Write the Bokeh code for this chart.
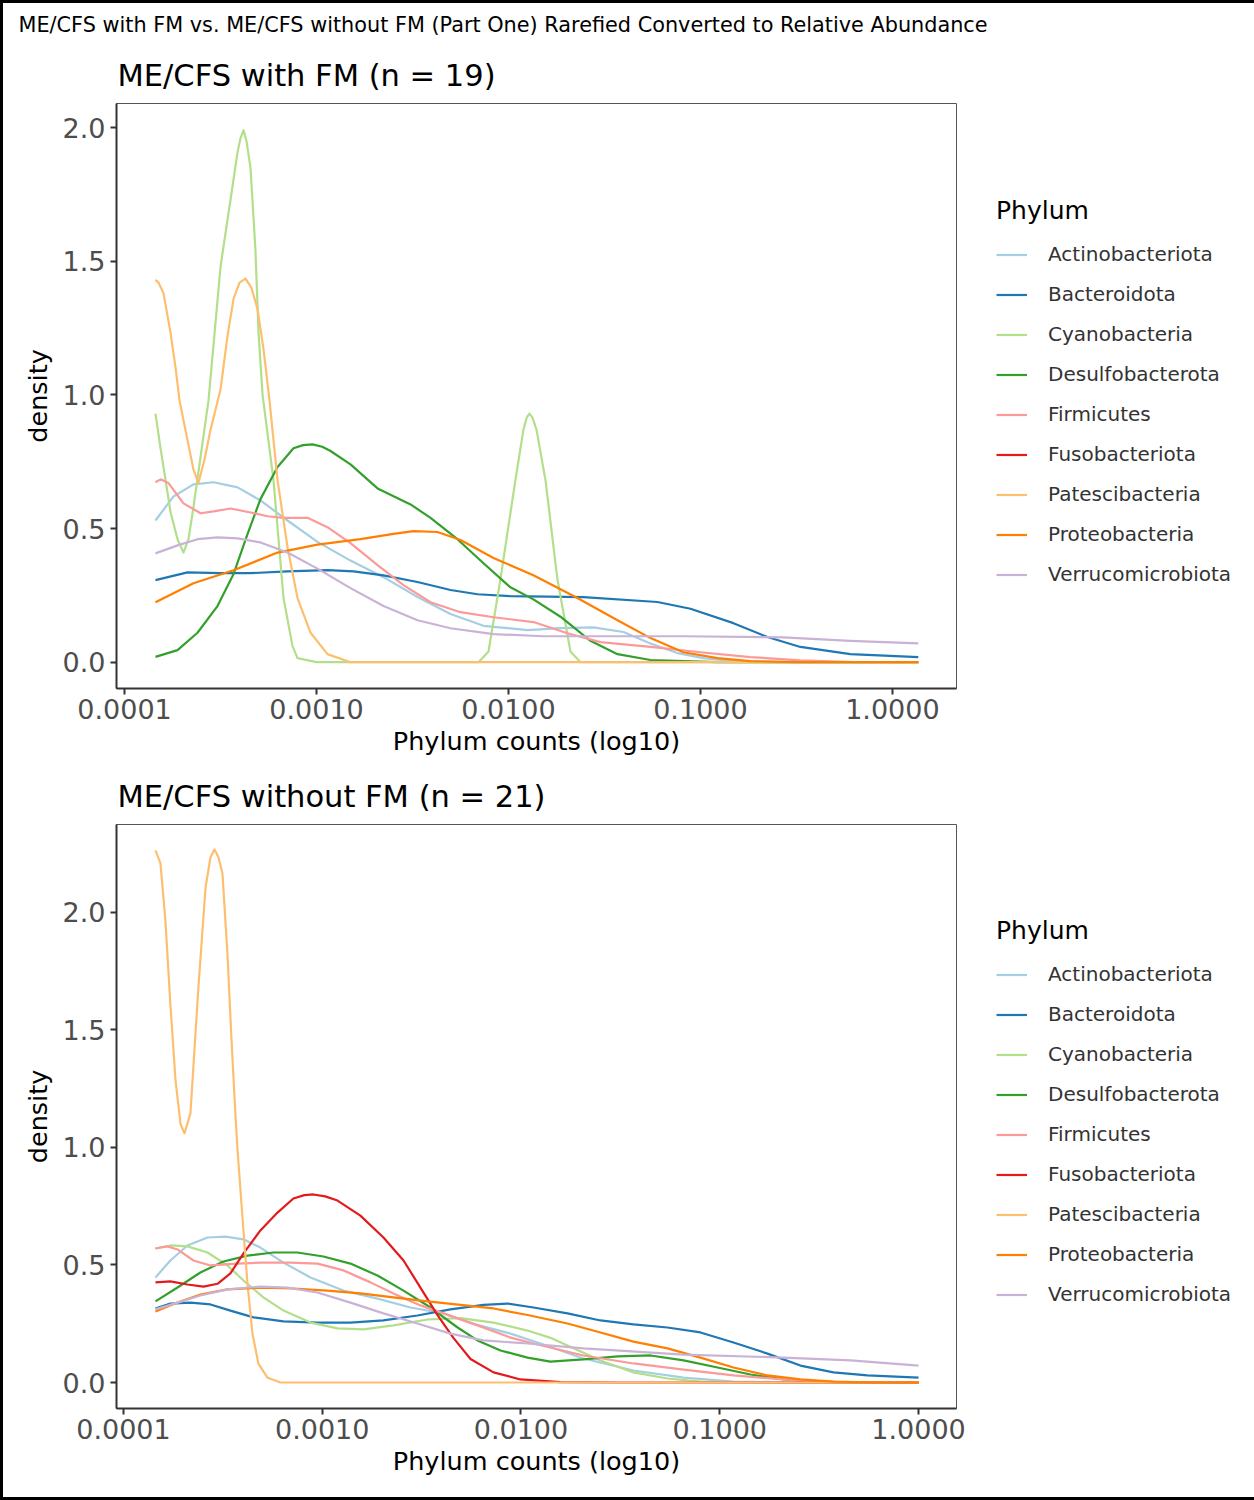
import numpy as np
from bokeh.plotting import figure
from bokeh.models import (Range1d, FixedTicker, NumeralTickFormatter, Legend,
                          LegendItem, Title, Column, ColumnDataSource)
from bokeh.embed import file_html
from bokeh.resources import INLINE

# ---------------- data ----------------
MAIN_TITLE = "ME/CFS with FM vs. ME/CFS without FM (Part One) Rarefied Converted to Relative Abundance"
TOP_TITLE = "ME/CFS with FM (n = 19)"
BOTTOM_TITLE = "ME/CFS without FM (n = 21)"
X_LABEL = "Phylum counts (log10)"
Y_LABEL = "density"
LEGEND_TITLE = "Phylum"

PHYLA = ["Actinobacteriota", "Bacteroidota", "Cyanobacteria", "Desulfobacterota",
         "Firmicutes", "Fusobacteriota", "Patescibacteria", "Proteobacteria",
         "Verrucomicrobiota"]
COLORS = ["#A6CEE3", "#1F78B4", "#B2DF8A", "#33A02C", "#FB9A99", "#E31A1C",
          "#FDBF6F", "#FF7F00", "#CAB2D6"]
X_TICKS = [0.0001, 0.001, 0.01, 0.1, 1.0]
Y_TICKS = [0.0, 0.5, 1.0, 1.5, 2.0]

# x values are log10(relative abundance), y values are density
# ---- ME/CFS with FM ----
top_actino_x = [-3.839, -3.745, -3.641, -3.536, -3.411, -3.292, -3.151, -2.995, -2.823, -2.651, -2.474, -2.302, -2.130, -1.901, -1.729, -1.557, -1.401, -1.260, -1.120, -0.984, -0.828, -0.6, 0.135]
top_actino_y = [0.53, 0.62, 0.665, 0.673, 0.654, 0.605, 0.53, 0.45, 0.38, 0.318, 0.244, 0.18, 0.136, 0.12, 0.127, 0.13, 0.113, 0.07, 0.034, 0.015, 0.004, 0.0, 0.0]
top_bactero_x = [-3.839, -3.672, -3.5, -3.344, -3.151, -2.943, -2.807, -2.651, -2.474, -2.302, -2.161, -1.990, -1.609, -1.224, -1.052, -0.828, -0.651, -0.479, -0.219, 0.135]
top_bactero_y = [0.307, 0.336, 0.333, 0.333, 0.34, 0.344, 0.34, 0.325, 0.30, 0.27, 0.254, 0.247, 0.243, 0.225, 0.20, 0.146, 0.094, 0.057, 0.03, 0.019]
top_cyano_x = [-3.839, -3.8125, -3.760, -3.724, -3.693, -3.667, -3.641, -3.5625, -3.5, -3.448, -3.411, -3.396, -3.380, -3.365, -3.344, -3.318, -3.302, -3.281, -3.224, -3.172, -3.125, -3.099, -3.0, -2.156, -2.104, -2.042, -1.964, -1.922, -1.905, -1.891, -1.875, -1.854, -1.807, -1.745, -1.677, -1.625, 0.135]
top_cyano_y = [0.93, 0.80, 0.56, 0.46, 0.41, 0.46, 0.58, 0.98, 1.48, 1.73, 1.91, 1.96, 1.99, 1.95, 1.85, 1.54, 1.23, 1.0, 0.68, 0.24, 0.06, 0.015, 0.0, 0.0, 0.04, 0.31, 0.68, 0.87, 0.915, 0.93, 0.915, 0.87, 0.68, 0.31, 0.04, 0.0, 0.0]
top_desulfo_x = [-3.839, -3.724, -3.620, -3.516, -3.432, -3.359, -3.292, -3.203, -3.120, -3.070, -3.021, -2.970, -2.927, -2.823, -2.682, -2.510, -2.406, -2.266, -2.130, -1.990, -1.870, -1.729, -1.573, -1.432, -1.260, -0.911, 0.135]
top_desulfo_y = [0.02, 0.045, 0.11, 0.21, 0.33, 0.48, 0.61, 0.73, 0.80, 0.812, 0.815, 0.806, 0.79, 0.74, 0.65, 0.59, 0.54, 0.46, 0.37, 0.28, 0.235, 0.17, 0.08, 0.03, 0.008, 0.0, 0.0]
top_firmi_x = [-3.839, -3.8125, -3.771, -3.693, -3.604, -3.536, -3.448, -3.344, -3.255, -3.172, -3.047, -2.943, -2.823, -2.682, -2.547, -2.406, -2.25, -2.078, -1.870, -1.693, -1.521, -1.260, -1.0, -0.740, -0.479, -0.2, 0.135]
top_firmi_y = [0.673, 0.684, 0.67, 0.594, 0.557, 0.564, 0.575, 0.56, 0.546, 0.54, 0.54, 0.505, 0.445, 0.363, 0.288, 0.224, 0.187, 0.168, 0.15, 0.108, 0.075, 0.057, 0.037, 0.019, 0.007, 0.0, 0.0]
top_fuso_x = [np.nan]   # no curve drawn for this group (legend entry only)
top_fuso_y = [np.nan]
top_patesci_x = [-3.839, -3.823, -3.797, -3.760, -3.734, -3.714, -3.672, -3.641, -3.615, -3.583, -3.552, -3.5, -3.464, -3.432, -3.401, -3.370, -3.339, -3.307, -3.276, -3.245, -3.203, -3.151, -3.099, -3.031, -2.943, -2.823, 0.135]
top_patesci_y = [1.43, 1.42, 1.38, 1.23, 1.10, 0.98, 0.83, 0.72, 0.67, 0.76, 0.87, 1.02, 1.22, 1.36, 1.42, 1.435, 1.40, 1.32, 1.17, 0.98, 0.68, 0.43, 0.24, 0.11, 0.03, 0.0, 0.0]
top_proteo_x = [-3.839, -3.641, -3.432, -3.203, -2.995, -2.771, -2.599, -2.495, -2.370, -2.25, -2.078, -1.870, -1.641, -1.432, -1.260, -1.089, -0.911, -0.740, -0.5, 0.135]
top_proteo_y = [0.224, 0.295, 0.344, 0.41, 0.44, 0.46, 0.48, 0.49, 0.487, 0.457, 0.39, 0.325, 0.24, 0.157, 0.09, 0.037, 0.015, 0.004, 0.0, 0.0]
top_verruco_x = [-3.839, -3.724, -3.620, -3.516, -3.411, -3.292, -3.151, -2.995, -2.823, -2.651, -2.474, -2.302, -2.078, -1.818, -1.089, -0.568, -0.219, 0.135]
top_verruco_y = [0.407, 0.437, 0.46, 0.467, 0.463, 0.448, 0.41, 0.35, 0.277, 0.21, 0.157, 0.127, 0.105, 0.097, 0.097, 0.093, 0.08, 0.07]

# ---- ME/CFS without FM ----
bot_actino_x = [-3.839, -3.764, -3.678, -3.577, -3.487, -3.396, -3.311, -3.195, -3.059, -2.893, -2.722, -2.556, -2.390, -2.219, -2.053, -1.902, -1.686, -1.434, -1.182, -0.931, -0.6, 0.0]
bot_actino_y = [0.447, 0.519, 0.583, 0.617, 0.621, 0.609, 0.574, 0.51, 0.447, 0.391, 0.357, 0.319, 0.294, 0.245, 0.208, 0.166, 0.102, 0.051, 0.021, 0.004, 0.0, 0.0]
bot_bactero_x = [-3.839, -3.764, -3.663, -3.562, -3.462, -3.346, -3.195, -3.024, -2.858, -2.692, -2.521, -2.355, -2.189, -2.068, -1.937, -1.766, -1.600, -1.434, -1.263, -1.097, -0.931, -0.760, -0.594, -0.428, -0.257, 0.0]
bot_bactero_y = [0.315, 0.336, 0.34, 0.332, 0.306, 0.277, 0.26, 0.255, 0.255, 0.264, 0.285, 0.311, 0.33, 0.336, 0.319, 0.294, 0.264, 0.247, 0.234, 0.213, 0.17, 0.123, 0.072, 0.043, 0.03, 0.021]
bot_cyano_x = [-3.839, -3.764, -3.678, -3.577, -3.477, -3.396, -3.296, -3.195, -3.059, -2.923, -2.792, -2.642, -2.470, -2.304, -2.138, -1.967, -1.852, -1.766, -1.600, -1.434, -1.263, -1.097, -0.8, 0.0]
bot_cyano_y = [0.57, 0.583, 0.579, 0.553, 0.498, 0.434, 0.362, 0.306, 0.255, 0.23, 0.226, 0.243, 0.268, 0.274, 0.255, 0.221, 0.19, 0.157, 0.094, 0.043, 0.017, 0.004, 0.0, 0.0]
bot_desulfo_x = [-3.839, -3.728, -3.613, -3.497, -3.376, -3.245, -3.125, -2.994, -2.858, -2.722, -2.591, -2.455, -2.319, -2.219, -2.103, -1.967, -1.852, -1.686, -1.514, -1.348, -1.182, -1.011, -0.845, -0.679, -0.508, -0.3, 0.0]
bot_desulfo_y = [0.345, 0.404, 0.468, 0.515, 0.54, 0.553, 0.553, 0.536, 0.506, 0.455, 0.391, 0.319, 0.234, 0.179, 0.136, 0.106, 0.089, 0.098, 0.111, 0.115, 0.094, 0.064, 0.034, 0.013, 0.004, 0.0, 0.0]
bot_firmi_x = [-3.839, -3.779, -3.728, -3.648, -3.562, -3.426, -3.311, -3.160, -3.024, -2.893, -2.757, -2.642, -2.506, -2.390, -2.219, -2.053, -1.937, -1.686, -1.434, -1.182, -0.931, -0.679, -0.508, -0.3, 0.0]
bot_firmi_y = [0.57, 0.579, 0.566, 0.519, 0.498, 0.506, 0.51, 0.51, 0.506, 0.477, 0.426, 0.379, 0.328, 0.294, 0.243, 0.191, 0.166, 0.115, 0.081, 0.055, 0.03, 0.013, 0.004, 0.0, 0.0]
bot_fuso_x = [-3.839, -3.764, -3.678, -3.597, -3.527, -3.462, -3.396, -3.311, -3.225, -3.145, -3.090, -3.044, -2.985, -2.923, -2.808, -2.692, -2.591, -2.506, -2.420, -2.340, -2.254, -2.138, -2.003, -1.801, -1.5, 0.0]
bot_fuso_y = [0.426, 0.43, 0.417, 0.408, 0.42, 0.464, 0.549, 0.647, 0.723, 0.783, 0.797, 0.80, 0.792, 0.774, 0.71, 0.617, 0.519, 0.404, 0.287, 0.19, 0.10, 0.043, 0.013, 0.002, 0.0, 0.0]
bot_patesci_x = [-3.839, -3.814, -3.789, -3.764, -3.738, -3.713, -3.693, -3.663, -3.623, -3.587, -3.562, -3.542, -3.522, -3.502, -3.477, -3.457, -3.436, -3.426, -3.401, -3.376, -3.351, -3.321, -3.275, -3.210, 0.0]
bot_patesci_y = [2.264, 2.21, 1.966, 1.61, 1.285, 1.10, 1.06, 1.145, 1.68, 2.106, 2.235, 2.268, 2.235, 2.166, 1.826, 1.468, 1.128, 0.987, 0.70, 0.42, 0.208, 0.08, 0.02, 0.0, 0.0]
bot_proteo_x = [-3.839, -3.728, -3.613, -3.477, -3.311, -3.145, -2.974, -2.808, -2.642, -2.470, -2.304, -2.138, -1.967, -1.766, -1.600, -1.434, -1.263, -1.097, -0.931, -0.760, -0.594, -0.428, -0.2, 0.0]
bot_proteo_y = [0.302, 0.34, 0.374, 0.396, 0.404, 0.40, 0.391, 0.379, 0.362, 0.345, 0.33, 0.315, 0.287, 0.251, 0.213, 0.174, 0.145, 0.106, 0.064, 0.03, 0.013, 0.004, 0.0, 0.0]
bot_verruco_x = [-3.839, -3.728, -3.613, -3.477, -3.311, -3.175, -3.024, -2.858, -2.692, -2.521, -2.355, -2.189, -1.967, -1.686, -1.182, -0.679, -0.342, 0.0]
bot_verruco_y = [0.311, 0.34, 0.37, 0.396, 0.408, 0.404, 0.383, 0.34, 0.294, 0.251, 0.208, 0.179, 0.166, 0.145, 0.119, 0.106, 0.094, 0.072]

TOP_SERIES = [(top_actino_x, top_actino_y), (top_bactero_x, top_bactero_y),
              (top_cyano_x, top_cyano_y), (top_desulfo_x, top_desulfo_y),
              (top_firmi_x, top_firmi_y), (top_fuso_x, top_fuso_y),
              (top_patesci_x, top_patesci_y), (top_proteo_x, top_proteo_y),
              (top_verruco_x, top_verruco_y)]
BOT_SERIES = [(bot_actino_x, bot_actino_y), (bot_bactero_x, bot_bactero_y),
              (bot_cyano_x, bot_cyano_y), (bot_desulfo_x, bot_desulfo_y),
              (bot_firmi_x, bot_firmi_y), (bot_fuso_x, bot_fuso_y),
              (bot_patesci_x, bot_patesci_y), (bot_proteo_x, bot_proteo_y),
              (bot_verruco_x, bot_verruco_y)]

FONT = "DejaVu Sans"
FIG_W = 1248


def make_panel(series, panel_title, x_log_range, y_range, min_top, min_bottom,
               frame_h, legend_vy, title_standoff, main_title=None):
    p = figure(x_axis_type="log", output_backend="svg", toolbar_location=None,
               frame_width=840, frame_height=frame_h,
               min_border_left=113, min_border_right=FIG_W - 113 - 840,
               min_border_top=min_top, min_border_bottom=min_bottom,
               x_range=Range1d(10 ** x_log_range[0], 10 ** x_log_range[1]),
               y_range=Range1d(*y_range))
    p.background_fill_color = "white"
    p.border_fill_color = "white"
    p.outline_line_color = "#555555"
    p.outline_line_width = 1
    p.grid.visible = False

    # titles: the plot's own title is outermost, added ones are nearer the frame
    if main_title is not None:
        p.title.text = main_title
        p.title.text_font = FONT
        p.title.text_font_size = "20.8px"
        p.title.text_font_style = "normal"
        p.title.text_color = "black"
        p.title.align = "left"
        p.title.offset = -98
        p.title.standoff = 15
        pt = Title(text=panel_title, text_font=FONT, text_font_size="30.5px",
                   text_font_style="normal", text_color="black", align="left",
                   offset=1, standoff=title_standoff)
        p.add_layout(pt, "above")
    else:
        p.title.text = panel_title
        p.title.text_font = FONT
        p.title.text_font_size = "30.5px"
        p.title.text_font_style = "normal"
        p.title.text_color = "black"
        p.title.align = "left"
        p.title.offset = 1
        p.title.standoff = title_standoff

    renderers = []
    for (xs, ys), color in zip(series, COLORS):
        src = ColumnDataSource(dict(x=[10 ** v for v in xs], y=list(ys)))
        r = p.line("x", "y", source=src, line_color=color, line_width=2.2,
                   line_join="round")
        renderers.append(r)

    ax = p.xaxis[0]
    ax.ticker = FixedTicker(ticks=X_TICKS)
    ax.formatter = NumeralTickFormatter(format="0.0000")
    ay = p.yaxis[0]
    ay.ticker = FixedTicker(ticks=Y_TICKS)
    ay.formatter = NumeralTickFormatter(format="0.0")
    for a in (ax, ay):
        a.axis_line_color = "#333333"
        a.axis_line_width = 2
        a.major_tick_line_color = "#333333"
        a.major_tick_line_width = 2
        a.major_tick_out = 6
        a.major_tick_in = 0
        a.minor_tick_line_color = None
        a.major_label_text_font = FONT
        a.major_label_text_font_size = "27px"
        a.major_label_text_color = "#4D4D4D"
        a.axis_label_text_font = FONT
        a.axis_label_text_font_size = "25.5px"
        a.axis_label_text_font_style = "normal"
        a.axis_label_text_color = "black"
    ax.axis_label = X_LABEL
    ax.major_label_standoff = 4
    ax.axis_label_standoff = 4
    ay.axis_label = Y_LABEL
    ay.major_label_standoff = 5
    ay.axis_label_standoff = 7

    items = [LegendItem(label=name, renderers=[r]) for name, r in zip(PHYLA, renderers)]
    legend = Legend(items=items, location=(40, legend_vy), orientation="vertical",
                    title=LEGEND_TITLE, title_text_font=FONT,
                    title_text_font_size="25px", title_text_font_style="normal",
                    title_text_color="black", title_standoff=17,
                    label_text_font=FONT, label_text_font_size="20px",
                    label_text_color="#333333",
                    glyph_width=31, glyph_height=23, label_height=23,
                    spacing=16, label_standoff=21, padding=0, margin=0,
                    border_line_color=None, background_fill_alpha=0)
    p.add_layout(legend, "right")
    return p


top = make_panel(TOP_SERIES, TOP_TITLE, (-4.042, 0.334), (-0.0985, 2.09),
                 10, 74, 585, 102, 22, main_title=MAIN_TITLE)
bottom = make_panel(BOT_SERIES, BOTTOM_TITLE, (-4.035, 0.191), (-0.1106, 2.374),
                    62, 89, 584, 102, 22)

layout = Column(children=[top, bottom], spacing=0,
                styles={"border": "3px solid black", "background-color": "white"})

open("out.html", "w").write(file_html(layout, INLINE))
